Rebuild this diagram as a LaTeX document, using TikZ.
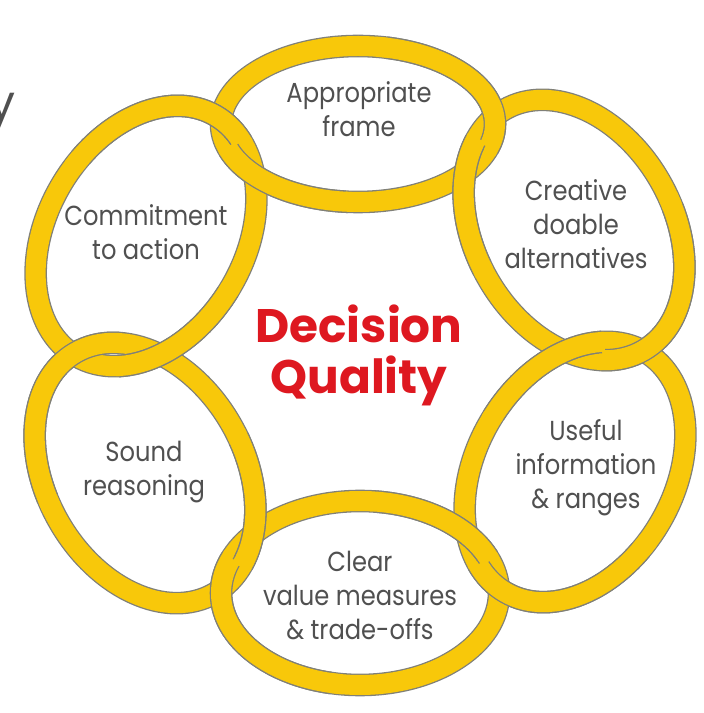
\documentclass[tikz,border=0pt]{standalone}
\usepackage{fontspec}
\setmainfont{Poppins}
\newfontfamily\lblfont{Poppins}[FakeStretch=0.88]
\usetikzlibrary{calc}
\definecolor{ringgold}{RGB}{248,200,10}
\definecolor{ringgray}{RGB}{128,128,120}
\definecolor{txtgray}{RGB}{80,80,80}
\definecolor{dqred}{RGB}{222,24,32}
% ring: center, rotation, semi-axis a, semi-axis b (centre line of the band)
\newcommand{\dqring}[4]{%
  \draw[ringout,shift={(#1)},rotate=#2] (0,0) ellipse (#3 and #4);
  \draw[ringin,shift={(#1)},rotate=#2] (0,0) ellipse (#3 and #4);}
% clip to a crossing region: bisector angle, 1=outer 0=inner, half angle, outer radius limit, inner radius limit, drawing
\newcommand{\dqclip}[6]{%
  \begin{scope}[even odd rule]
    \clip (C) -- ++(#1-#3:420) arc[start angle=#1-#3, end angle=#1+#3, radius=420] -- cycle;
    \ifnum#2=1 \clip (C) circle[radius=420] (C) circle[radius=#5];
    \else \clip (C) circle[radius=#4]; \fi
    #6
  \end{scope}}
% redraw a ring on top at one crossing: ring args, bisector angle, 1=outer 0=inner
\newcommand{\dqover}[6]{%
  \dqclip{#5}{#6}{25}{242}{242}{\draw[ringout,shift={(#1)},rotate=#2] (0,0) ellipse (#3 and #4);}
  \dqclip{#5}{#6}{27}{245}{239}{\draw[ringin,shift={(#1)},rotate=#2] (0,0) ellipse (#3 and #4);}}
\begin{document}
\begin{tikzpicture}[x=1pt,y=1pt,
  ringout/.style={draw=ringgray, line width=22.6pt},
  ringin/.style={draw=ringgold, line width=20pt},
  lbl/.style={text=txtgray, align=center, inner sep=0pt, font=\lblfont\fontsize{27.5}{34}\selectfont},
  dq/.style={text=dqred, align=center, inner sep=0pt, font=\fontsize{47}{51}\selectfont\bfseries}]
\useasboundingbox (0,0) rectangle (704,713);
\fill[white] (0,0) rectangle (704,713);
\coordinate (C) at (360,360);
\coordinate (rT)  at (358,589);
\coordinate (rTR) at (574,483);
\coordinate (rBR) at (575,241);
\coordinate (rB)  at (360,120);
\coordinate (rBL) at (145,240);
\coordinate (rTL) at (146,477);
% base rings
\dqring{rT}{0}{137}{78}
\dqring{rTR}{-60}{139}{99}
\dqring{rBR}{60}{139}{99}
\dqring{rB}{0}{139}{92}
\dqring{rBL}{-60}{139}{99}
\dqring{rTL}{60}{139}{99}
% interlocking crossings
\dqover{rT}{0}{137}{78}{60}{1}
\dqover{rTR}{-60}{139}{99}{60}{0}
\dqover{rTR}{-60}{139}{99}{0}{1}
\dqover{rBR}{60}{139}{99}{0}{0}
\dqover{rBR}{60}{139}{99}{-60}{1}
\dqover{rB}{0}{139}{92}{-60}{0}
\dqover{rB}{0}{139}{92}{-120}{1}
\dqover{rBL}{-60}{139}{99}{-120}{0}
\dqover{rBL}{-60}{139}{99}{180}{1}
\dqover{rTL}{60}{139}{99}{180}{0}
\dqover{rTL}{60}{139}{99}{120}{1}
\dqover{rT}{0}{137}{78}{120}{0}
% labels
\node[lbl] (tA) at (359,604) {Appropriate\\frame};
\node[lbl] (tC) at (576,489) {Creative\\doable\\alternatives};
\node[lbl] (tU) at (586,245) {Useful\\information\\\& ranges};
\node[lbl] (tV) at (360,118) {Clear\\value measures\\\& trade-offs};
\node[lbl] (tS) at (144,241) {Sound\\reasoning};
\node[lbl] (tM) at (146,481) {Commitment\\to action};
\node[dq] (dq) at (359,358) {Decision\\Quality};
\node[text=txtgray, inner sep=0pt, anchor=base east, font=\fontsize{48}{48}\selectfont] (ylet) at (16,593) {y};
\end{tikzpicture}
\end{document}
